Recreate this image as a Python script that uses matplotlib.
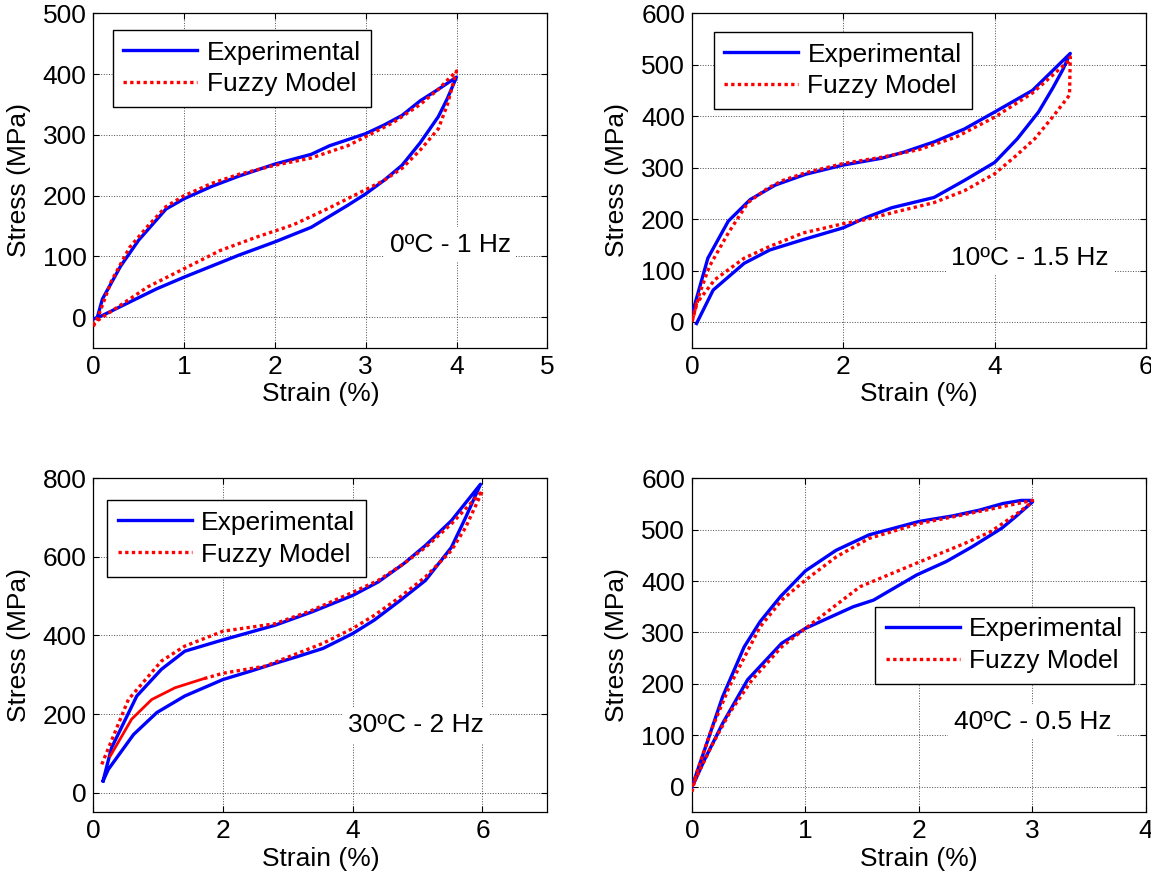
import numpy as np
import matplotlib
matplotlib.use('Agg')
import matplotlib.pyplot as plt

plt.rcParams['font.family'] = ['Liberation Sans', 'DejaVu Sans']
plt.rcParams['font.size'] = 19

# 0C - 1 Hz
exp0_x = [0.04, 0.1, 0.3, 0.5, 0.8, 1.0, 1.3, 1.6, 2.0, 2.4, 2.6, 3.0, 3.2, 3.4, 3.6, 3.8, 4.0,
          3.9, 3.8, 3.6, 3.4, 3.2, 3.0, 2.8, 2.4, 2.0, 1.6, 1.3, 1.0, 0.7, 0.4, 0.1, 0.0]
exp0_y = [-2, 30, 84, 127, 178, 195, 215, 232, 252, 268, 282, 302, 316, 332, 356, 375, 395,
          360, 330, 287, 250, 225, 203, 184, 148, 124, 102, 84, 66, 47, 25, 3, -3]
fuz0_x = [0.0, 0.05, 0.2, 0.4, 0.6, 0.8, 1.0, 1.3, 1.6, 2.0, 2.4, 2.8, 3.0, 3.3, 3.6, 3.8, 4.0,
          3.9, 3.8, 3.6, 3.4, 3.2, 3.0, 2.6, 2.2, 1.8, 1.4, 1.0, 0.6, 0.3, 0.1, 0.0]
fuz0_y = [-15, 0, 60, 115, 150, 182, 200, 220, 235, 250, 262, 282, 297, 320, 350, 375, 405,
          350, 310, 275, 245, 225, 210, 180, 152, 132, 110, 80, 50, 20, 0, -10]

# 10C - 1.5 Hz
exp10_x = [0.01, 0.21, 0.48, 0.77, 1.1, 1.5, 2.0, 2.5, 2.8, 3.2, 3.6, 4.0, 4.5, 5.0,
           4.9, 4.77, 4.58, 4.3, 4.0, 3.6, 3.2, 2.64, 2.3, 2.0, 1.47, 1.03, 0.69, 0.28, 0.06]
exp10_y = [20, 124, 196, 238, 266, 287, 305, 318, 330, 350, 375, 408, 450, 522,
           490, 455, 408, 356, 310, 275, 242, 222, 203, 183, 160, 140, 114, 62, -3]
fuz10_x = [0.0, 0.1, 0.23, 0.48, 0.74, 1.0, 1.2, 1.5, 2.0, 2.5, 3.0, 3.5, 4.0, 4.5, 5.0,
           5.0, 4.99, 4.77, 4.53, 4.29, 4.0, 3.6, 3.2, 2.64, 2.3, 2.0, 1.47, 1.03, 0.69, 0.3, 0.06, 0.0]
fuz10_y = [0, 55, 108, 173, 232, 260, 275, 290, 308, 320, 335, 360, 398, 445, 510,
           515, 441, 399, 356, 324, 288, 255, 232, 212, 199, 191, 173, 147, 124, 82, 36, 0]

# 30C - 2 Hz
exp30_x = [0.15, 0.28, 0.67, 1.05, 1.41, 2.0, 2.8, 3.37, 4.0, 4.39, 4.78, 5.12, 5.52, 5.97,
           5.74, 5.52, 5.12, 4.73, 4.33, 4.0, 3.54, 3.14, 2.8, 2.4, 2.0, 1.41, 0.98, 0.62, 0.23, 0.15]
exp30_y = [30, 114, 246, 314, 360, 389, 426, 460, 502, 536, 582, 629, 692, 785,
           700, 624, 540, 489, 439, 405, 367, 346, 329, 308, 288, 246, 204, 148, 59, 30]
fuz30_x = [0.13, 0.54, 1.05, 1.41, 2.0, 2.8, 3.37, 4.0, 4.39, 4.78, 5.12, 5.52, 6.0,
           5.74, 5.52, 5.12, 4.73, 4.33, 4.0, 3.54, 3.14, 2.65, 2.0, 1.7]
fuz30_y = [72, 237, 335, 373, 411, 430, 464, 510, 540, 582, 624, 684, 768,
           675, 616, 549, 498, 451, 418, 380, 354, 322, 304, 290]
# dense part of the fuzzy unloading branch (drawn solid)
fuz30_tail_x = [1.7, 1.26, 0.9, 0.59, 0.26]
fuz30_tail_y = [290, 267, 237, 187, 93]

# 40C - 0.5 Hz
exp40_x = [0.0, 0.11, 0.27, 0.46, 0.6, 0.78, 1.0, 1.27, 1.56, 2.0, 2.3, 2.53, 2.74, 2.9, 3.0,
           3.0, 2.85, 2.73, 2.47, 2.24, 1.98, 1.6, 1.42, 1.0, 0.79, 0.49, 0.27, 0.11, 0.03, 0.0]
exp40_y = [0, 71, 175, 272, 321, 370, 420, 460, 490, 516, 527, 538, 551, 557, 557,
           554, 525, 503, 467, 438, 412, 363, 350, 308, 279, 208, 123, 52, 13, 0]
fuz40_x = [0.0, 0.04, 0.17, 0.33, 0.6, 0.8, 1.0, 1.27, 1.56, 2.0, 2.3, 2.74, 3.0,
           3.0, 2.85, 2.63, 2.4, 1.98, 1.48, 1.19, 1.0, 0.79, 0.53, 0.33, 0.17, 0.04, 0.0]
fuz40_y = [-10, 26, 110, 195, 311, 365, 402, 447, 483, 512, 525, 545, 557,
           554, 529, 496, 473, 435, 389, 340, 308, 272, 208, 143, 78, 19, 0]

titles = ['0\u00baC - 1 Hz', '10\u00baC - 1.5 Hz', '30\u00baC - 2 Hz', '40\u00baC - 0.5 Hz']
xlims = [(0, 5), (0, 6), (0, 7), (0, 4)]
ylims = [(-50, 500), (-50, 600), (-50, 800), (-50, 600)]
xticks = [np.arange(0, 6, 1), np.arange(0, 7, 2), np.arange(0, 7, 2), np.arange(0, 5, 1)]
yticks = [np.arange(0, 501, 100), np.arange(0, 601, 100), np.arange(0, 801, 200), np.arange(0, 601, 100)]

exp = [(exp0_x, exp0_y), (exp10_x, exp10_y), (exp30_x, exp30_y), (exp40_x, exp40_y)]
fuz = [(fuz0_x, fuz0_y), (fuz10_x, fuz10_y), (fuz30_x, fuz30_y), (fuz40_x, fuz40_y)]

# layout (figure fractions) and legend / label placement (axes fractions)
boxes = [[0.0811, 0.6067, 0.3944, 0.3783], [0.6012, 0.6067, 0.3944, 0.3783],
         [0.0811, 0.0811, 0.3944, 0.3778], [0.6012, 0.0811, 0.3944, 0.3778]]
leg_pos = [(0.043, 0.95), (0.048, 0.944), (0.031, 0.935), (0.404, 0.616)]
txt_pos = [(3.93, 119), (4.47, 125), (4.98, 172), (3.0, 126)]

fig = plt.figure(figsize=(11.51, 8.84), dpi=100)
for i in range(4):
    ax = fig.add_axes(boxes[i])
    ax.plot(exp[i][0], exp[i][1], color='#0000ff', lw=2.4, label='Experimental', zorder=3)
    ax.plot(fuz[i][0], fuz[i][1], color='#ff0000', lw=2.4, linestyle=(0, (1, 1)),
            dash_capstyle='butt', label='Fuzzy Model', zorder=4)
    if i == 2:
        ax.plot(fuz30_tail_x, fuz30_tail_y, color='#ff0000', lw=2.0, zorder=4)
    ax.set_xlim(xlims[i])
    ax.set_ylim(ylims[i])
    ax.set_xticks(xticks[i])
    ax.set_yticks(yticks[i])
    ax.grid(True, linestyle=':', color='0.3', lw=0.7)
    ax.tick_params(direction='in', top=True, right=True, length=4, width=0.8)
    ax.tick_params(axis='x', pad=5)
    ax.tick_params(axis='y', pad=5)
    for s in ax.spines.values():
        s.set_linewidth(0.9)
    ax.set_xlabel('Strain (%)', labelpad=2.5)
    ax.set_ylabel('Stress (MPa)', labelpad=8.5)
    leg = ax.legend(loc='upper left', bbox_to_anchor=leg_pos[i], borderaxespad=0,
                    fancybox=False, edgecolor='black', framealpha=1, handlelength=2.8,
                    handletextpad=0.35, borderpad=0.4, labelspacing=0.3)
    leg.get_frame().set_linewidth(1.0)
    ax.text(txt_pos[i][0], txt_pos[i][1], titles[i], ha='center', va='center', zorder=5,
            bbox=dict(facecolor='white', edgecolor='none', pad=4))

fig.savefig('out.png', dpi=100)
